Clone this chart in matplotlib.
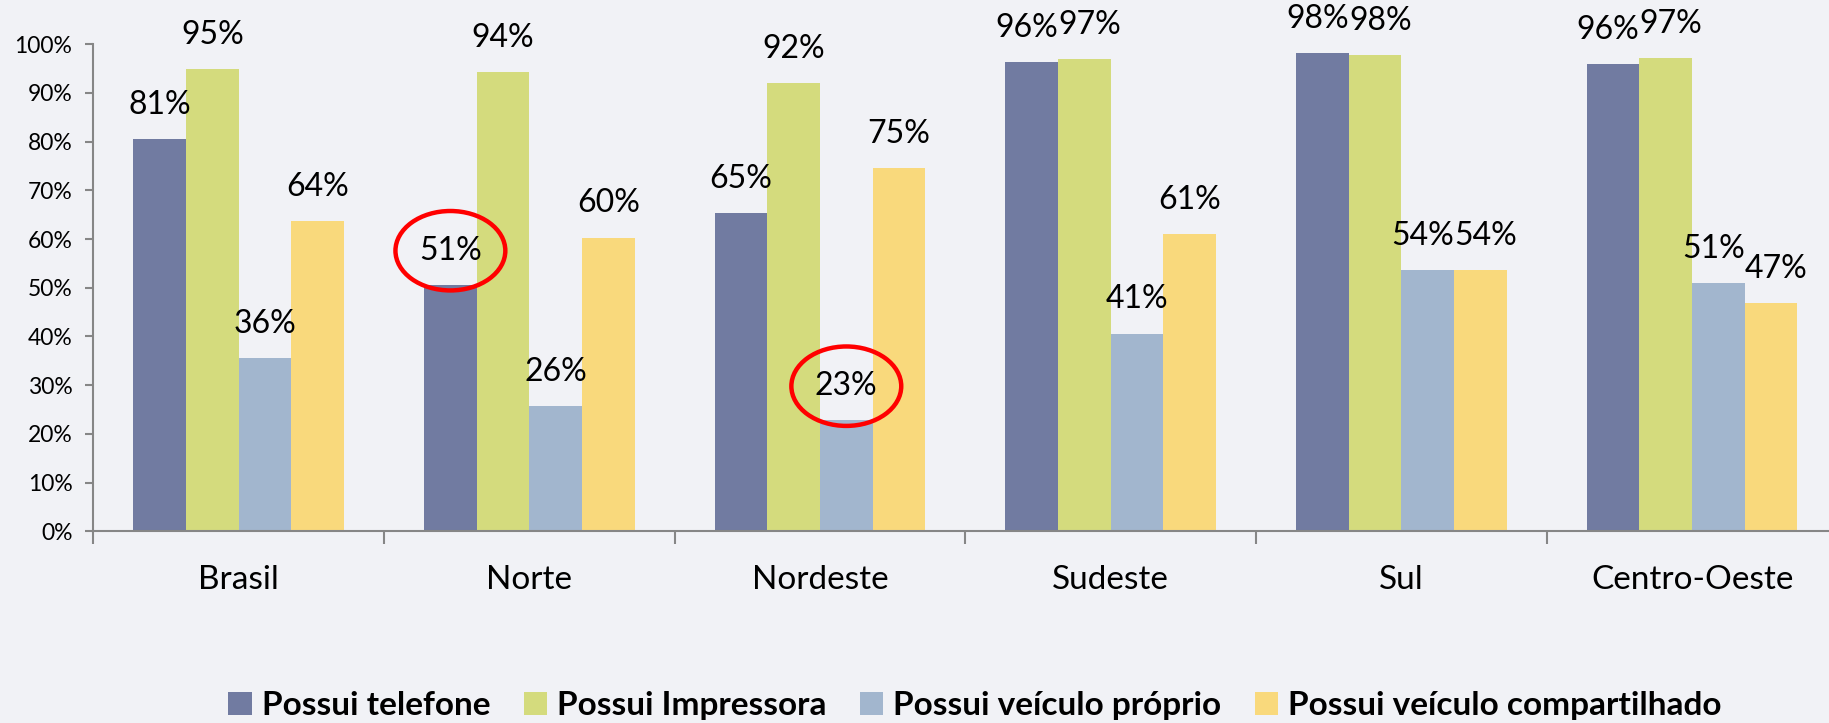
import matplotlib.pyplot as plt
from matplotlib.patches import Ellipse
import numpy as np

plt.rcParams['font.family'] = ['Lato', 'DejaVu Sans']

# dados por região (%)
regioes = ['Brasil', 'Norte', 'Nordeste', 'Sudeste', 'Sul', 'Centro-Oeste']
telefone = [80.6, 50.6, 65.3, 96.4, 98.2, 95.9]
impressora = [94.9, 94.2, 92.0, 96.9, 97.7, 97.2]
veiculo_proprio = [35.5, 25.8, 22.8, 40.6, 53.7, 50.9]
veiculo_compartilhado = [63.7, 60.3, 74.6, 61.0, 53.7, 46.9]

series = ['Possui telefone', 'Possui Impressora', 'Possui veículo próprio',
          'Possui veículo compartilhado']
cores = ['#717BA1', '#D4DB7D', '#A2B6CE', '#F9D97C']

# rótulos destacados com círculo vermelho: (região, série)
destaques = [(1, 0), (2, 2)]

fig = plt.figure(figsize=(18.29, 7.23), dpi=100, facecolor='#F1F2F6')
ax = fig.add_axes([0.051, 0.265, 0.9536, 0.674])
ax.set_facecolor('none')

valores = [telefone, impressora, veiculo_proprio, veiculo_compartilhado]
x = np.arange(len(regioes)) + 0.5
w = 0.181
for k, vals in enumerate(valores):
    ax.bar(x + (k - 1.5) * w, vals, width=w, color=cores[k], label=series[k])

# rótulos: afasta um pouco os vizinhos de mesma altura para não se tocarem
for i in range(len(regioes)):
    desloc = [0.0] * 4
    for k in range(3):
        if abs(valores[k][i] - valores[k + 1][i]) < 6:
            desloc[k] -= 0.018
            desloc[k + 1] += 0.018
    for k in range(4):
        v = valores[k][i]
        ax.text(x[i] + (k - 1.5) * w + desloc[k], v + 7, f'{int(v + 0.5)}%',
                ha='center', va='center', fontsize=23, color='black')

for i, k in destaques:
    px = x[i] + (k - 1.5) * w
    v = valores[k][i]
    ax.add_patch(Ellipse((px, v + 7), 0.378, 16.3, fill=False,
                         edgecolor='#FF0000', linewidth=3.2, clip_on=False))

ax.set_xlim(0, 6)
ax.set_ylim(0, 100)
ax.set_yticks(range(0, 101, 10))
ax.set_yticklabels([f'{t}%' for t in range(0, 101, 10)], fontsize=16.5)
ax.set_xticks(range(0, 7))
ax.set_xticklabels([])
ax.set_xticks(x, minor=True)
ax.set_xticklabels(regioes, minor=True, fontsize=24)
ax.tick_params(axis='x', which='minor', length=0, pad=24)
ax.tick_params(axis='x', which='major', length=9, width=1.5, color='#868686')
ax.tick_params(axis='y', length=6, width=1.5, color='#868686', pad=9)

for s in ['top', 'right']:
    ax.spines[s].set_visible(False)
for s in ['left', 'bottom']:
    ax.spines[s].set_color('#868686')
    ax.spines[s].set_linewidth(1.5)

fig.legend(loc='center', bbox_to_anchor=(0.533, 0.024), ncol=4, frameon=False,
           prop={'size': 24, 'weight': 'bold'}, handlelength=0.7,
           handleheight=0.7, handletextpad=0.3, columnspacing=1.0)

plt.savefig('out.png', dpi=100, facecolor=fig.get_facecolor())
